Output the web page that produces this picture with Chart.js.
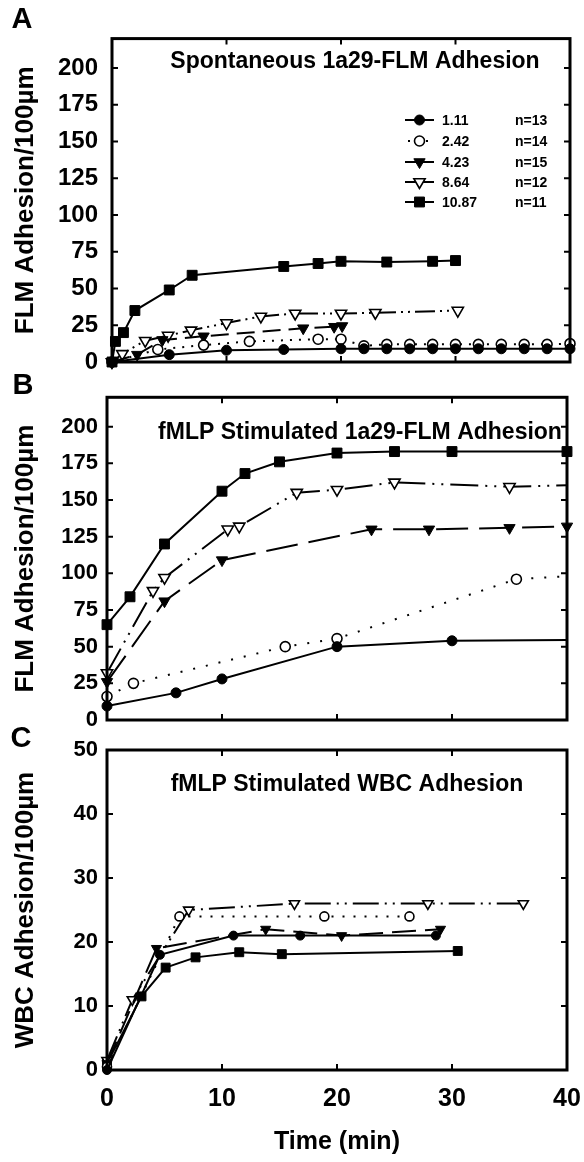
<!DOCTYPE html>
<html lang="en">
<head>
<meta charset="UTF-8">
<title>FLM and WBC Adhesion</title>
<script src="https://cdn.jsdelivr.net/npm/chart.js"></script>
<style>
  body { margin: 0; background: #ffffff; }
  #wrap { position: relative; width: 584px; height: 1162px; }
  canvas { position: absolute; left: 0; }
</style>
</head>
<body>
<div id="wrap">
  <canvas id="chartA"></canvas>
  <canvas id="chartB"></canvas>
  <canvas id="chartC"></canvas>
</div>
<script>
// series names (concentration) and number of runs for each one
const concentrations = ['1.11', '2.42', '4.23', '8.64', '10.87'];
const nValues = ['n=13', 'n=14', 'n=15', 'n=12', 'n=11'];
const panelTitles = ['Spontaneous 1a29-FLM Adhesion', 'fMLP Stimulated 1a29-FLM Adhesion', 'fMLP Stimulated WBC Adhesion'];
const timeTicks = [0, 10, 20, 30, 40];

// Panel A, [time (min), adhesion per 100um]
const spont111 = [[0,0],[5,5],[10,8],[15,8.5],[20,9],[22,9],[24,9],[26,9],[28,9],[30,9],[32,9],[34,9],[36,9],[38,9],[40,9]];
const spont242 = [[0,0],[4,8.5],[8,11.5],[12,14],[18,15.5],[20,15.5],[22,11],[24,12],[26,12],[28,12],[30,12],[32,12],[34,12],[36,12],[38,12],[40,12.5]];
const spont423 = [[0,0],[2.2,5],[4.4,15],[8,17.5],[16.7,23],[19.4,24],[20.1,24.5]];
const spont864 = [[0,0],[0.9,5.5],[2.9,14.5],[4.9,18],[6.9,21.5],[10,26.5],[13,31],[16,33],[20,33],[23,33.5],[30.2,35]];
const spont1087 = [[0,0],[0.3,14],[1,20],[2,35],[5,49],[7,59],[15,65],[18,67],[20,68.5],[24,68],[28,68.5],[30,69]];

// Panel B
const stim111 = [[0,9.5],[6,18.5],[10,28],[20,50],[30,54],[40,54.5]];
const stim242 = [[0,16],[2.3,25],[15.5,50],[20,55.5],[35.6,96],[40,98]];
const stim423 = [[0,26],[5,81],[10,109],[23,130],[28,130],[35,131],[40,132]];
const stim864 = [[0,32],[4,88],[5,97],[10.5,130],[11.5,132],[16.5,155],[20,157],[25,162],[35,159],[40,160]];
const stim1087 = [[0,65],[2,84],[5,120],[10,156],[12,168],[15,176],[20,182],[25,183],[30,183],[40,183]];

// Panel C
const wbc111 = [[0,0],[4.6,18],[11,21],[16.8,21],[28.6,21]];
const wbc242 = [[0,0.5],[6.3,24],[18.9,24],[26.3,24]];
const wbc423 = [[0,1],[4.3,19],[13.8,22],[20.4,21],[29,22]];
const wbc864 = [[0,1.5],[2.2,11],[7.1,25],[16.3,26],[27.9,26],[36.2,26]];
const wbc1087 = [[0,1],[3,11.5],[5.1,16],[7.7,17.6],[11.5,18.4],[15.2,18.1],[30.5,18.6]];

const FONT = '"Liberation Sans", Arial, Helvetica, sans-serif';

const seriesStyles = [
  { pointStyle: 'circle', filled: true, dash: 'solid', r: 5 },
  { pointStyle: 'circle', filled: false, dash: 'dot', r: 5 },
  { pointStyle: 'triangle', filled: true, dash: 'long', r: 6.5 },
  { pointStyle: 'triangle', filled: false, dash: 'dashdot', r: 6.5 },
  { pointStyle: 'rect', filled: true, dash: 'solid', r: 7 }
];

const dashSets = {
  A: { solid: [], dot: [2, 7], long: [18, 8], dashdot: [20, 5, 2, 5, 2, 5] },
  B: { solid: [], dot: [2, 11], long: [32, 11], dashdot: [28, 7, 2, 7, 2, 7] },
  C: { solid: [], dot: [2, 9], long: [24, 9], dashdot: [26, 6, 2, 6, 2, 6] }
};

function makeDatasets(seriesData, dashes, sizeK, hideLast) {
  return seriesData.map((pts, i) => {
    const st = seriesStyles[i];
    const r = st.r * sizeK;
    const n = pts.length;
    return {
      label: concentrations[i],
      data: pts.map(p => ({ x: p[0], y: p[1] })),
      borderColor: '#000',
      borderWidth: 2,
      borderDash: dashes[st.dash],
      pointStyle: st.pointStyle,
      pointRotation: st.pointStyle === 'triangle' ? 180 : 0,
      pointRadius: ctx => (hideLast[i] && ctx.dataIndex === n - 1) ? 0 : r,
      pointBackgroundColor: st.filled ? '#000' : '#fff',
      pointBorderColor: '#000',
      pointBorderWidth: st.filled ? 1 : 1.6,
      tension: 0,
      fill: false,
      clip: 12
    };
  });
}

// box around the plot with tick marks pointing inward
const framePlugin = {
  id: 'frame',
  afterDatasetsDraw(chart) {
    const { ctx, chartArea: a, scales } = chart;
    ctx.save();
    ctx.strokeStyle = '#000';
    ctx.lineWidth = 2;
    scales.x.ticks.forEach(t => {
      if (t.value <= scales.x.min || t.value >= scales.x.max) return;
      const px = scales.x.getPixelForValue(t.value);
      ctx.beginPath();
      ctx.moveTo(px, a.bottom); ctx.lineTo(px, a.bottom - 6);
      ctx.moveTo(px, a.top); ctx.lineTo(px, a.top + 6);
      ctx.stroke();
    });
    scales.y.ticks.forEach(t => {
      if (t.value <= scales.y.min || t.value >= scales.y.max) return;
      const py = scales.y.getPixelForValue(t.value);
      ctx.beginPath();
      ctx.moveTo(a.left, py); ctx.lineTo(a.left + 6, py);
      ctx.moveTo(a.right, py); ctx.lineTo(a.right - 6, py);
      ctx.stroke();
    });
    ctx.lineWidth = 3;
    ctx.strokeRect(a.left, a.top, a.right - a.left, a.bottom - a.top);
    ctx.restore();
  }
};

// panel letter, title inside the box, and legend for panel A
const panelText = {
  id: 'panelText',
  afterDraw(chart, args, opts) {
    const ctx = chart.ctx;
    ctx.save();
    ctx.fillStyle = '#000';
    ctx.textBaseline = 'middle';
    ctx.textAlign = 'center';
    ctx.font = 'bold 29px ' + FONT;
    ctx.fillText(opts.letter, opts.letterX, opts.letterY);
    ctx.font = 'bold 23px ' + FONT;
    ctx.fillText(opts.title, opts.titleX, opts.titleY);

    if (opts.legend) {
      const L = opts.legend;
      chart.data.datasets.forEach((ds, i) => {
        const y = L.rows[i];
        const st = seriesStyles[i];
        ctx.strokeStyle = '#000';
        ctx.lineWidth = 2;
        ctx.setLineDash(st.dash === 'dot' ? [2, 7] : []);
        ctx.beginPath();
        ctx.moveTo(st.dash === 'dot' ? L.x0 + 3 : L.x0, y);
        ctx.lineTo(L.x1, y);
        ctx.stroke();
        ctx.setLineDash([]);
        // marker
        const mx = (L.x0 + L.x1) / 2;
        const r = st.r;
        ctx.fillStyle = st.filled ? '#000' : '#fff';
        ctx.lineWidth = st.filled ? 1 : 1.6;
        ctx.beginPath();
        if (st.pointStyle === 'circle') {
          ctx.arc(mx, y, r, 0, Math.PI * 2);
        } else if (st.pointStyle === 'rect') {
          const s = r * Math.SQRT1_2;
          ctx.rect(mx - s, y - s, 2 * s, 2 * s);
        } else {
          ctx.moveTo(mx, y + r);
          ctx.lineTo(mx - r * 0.866, y - r / 2);
          ctx.lineTo(mx + r * 0.866, y - r / 2);
          ctx.closePath();
        }
        ctx.fill();
        ctx.stroke();
        ctx.fillStyle = '#000';
        ctx.textAlign = 'left';
        ctx.font = 'bold 14px ' + FONT;
        ctx.fillText(ds.label, L.labelX, y + 1);
        ctx.fillText(nValues[i], L.nX, y + 1);
      });
    }
    ctx.restore();
  }
};

function yAxis(max, step, tickSize, tickPad, titleText, width) {
  return {
    type: 'linear',
    min: 0,
    max: max,
    ticks: {
      stepSize: step,
      includeBounds: false,
      color: '#000',
      padding: tickPad,
      font: { family: FONT, weight: 'bold', size: tickSize }
    },
    grid: { display: false, drawTicks: false },
    border: { display: false },
    title: {
      display: true,
      text: titleText,
      color: '#000',
      font: { family: FONT, weight: 'bold', size: 26 },
      padding: { top: 10, bottom: 0 }
    },
    afterFit: s => {
      s.width = width;
      s.paddingTop = 0;
      s.paddingBottom = 0;
    }
  };
}

function xAxis(showLabels) {
  const ax = {
    type: 'linear',
    min: 0,
    max: 40,
    ticks: {
      stepSize: 10,
      display: showLabels,
      color: '#000',
      padding: 14,
      font: { family: FONT, weight: 'bold', size: 25 },
      callback: (v) => timeTicks.includes(v) ? String(v) : ''
    },
    grid: { display: false, drawTicks: false },
    border: { display: false },
    title: {
      display: showLabels,
      text: 'Time (min)',
      color: '#000',
      font: { family: FONT, weight: 'bold', size: 25 },
      padding: { top: 0, bottom: 5 }
    },
    afterFit: s => {
      s.height = showLabels ? 92 : 0;
      s.paddingLeft = 0;
      s.paddingRight = 0;
    }
  };
  return ax;
}

function makeChart(id, top, height, datasets, yConf, xConf, padding, textOpts) {
  const canvas = document.getElementById(id);
  canvas.width = 584;
  canvas.height = height;
  canvas.style.top = top + 'px';
  return new Chart(canvas.getContext('2d'), {
    type: 'line',
    data: { datasets: datasets },
    options: {
      responsive: false,
      animation: false,
      devicePixelRatio: 1,
      layout: { padding: padding, autoPadding: false },
      scales: { x: xConf, y: yConf },
      plugins: {
        legend: { display: false },
        tooltip: { enabled: false },
        panelText: textOpts
      }
    },
    plugins: [framePlugin, panelText]
  });
}

// Panel A
makeChart('chartA', 0, 385,
  makeDatasets([spont111, spont242, spont423, spont864, spont1087], dashSets.A, 1, [false, false, false, false, false]),
  yAxis(220, 25, 24, 14, 'FLM Adhesion/100µm', 112),
  xAxis(false),
  { left: 0, right: 14, top: 38.6, bottom: 23 },
  {
    letter: 'A', letterX: 22, letterY: 20,
    title: panelTitles[0], titleX: 355, titleY: 62,
    legend: { rows: [120, 141, 162, 182, 202], x0: 405, x1: 434, labelX: 442, nX: 515 }
  });

// Panel B
makeChart('chartB', 365, 375,
  makeDatasets([stim111, stim242, stim423, stim864, stim1087], dashSets.B, 1, [true, true, false, true, false]),
  yAxis(220, 25, 22, 9, 'FLM Adhesion/100µm', 107),
  xAxis(false),
  { left: 0, right: 17, top: 32.3, bottom: 20 },
  { letter: 'B', letterX: 23, letterY: 21, title: panelTitles[1], titleX: 360, titleY: 68 });

// Panel C
makeChart('chartC', 725, 437,
  makeDatasets([wbc111, wbc242, wbc423, wbc864, wbc1087], dashSets.C, 0.9, [false, false, false, false, false]),
  yAxis(50, 10, 22, 9, 'WBC Adhesion/100µm', 107),
  xAxis(true),
  { left: 0, right: 17, top: 25, bottom: 0 },
  { letter: 'C', letterX: 21, letterY: 14, title: panelTitles[2], titleX: 347, titleY: 60 });
</script>
</body>
</html>
